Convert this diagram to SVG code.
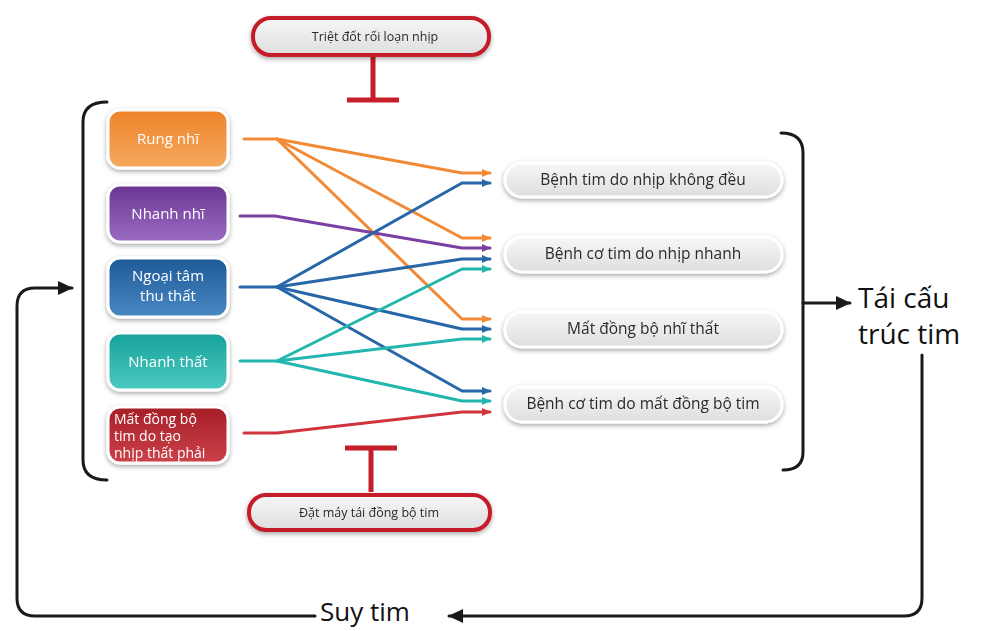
<svg xmlns="http://www.w3.org/2000/svg" width="985" height="631" viewBox="0 0 985 631">
<defs>
<style>
.lt{font-family:"Open Sans","Liberation Sans",sans-serif;font-size:15px;fill:#ffffff;text-anchor:middle}
.ls{font-family:"Open Sans","Liberation Sans",sans-serif;font-size:14px;fill:#ffffff;text-anchor:start}
.rt{font-family:"Open Sans","Liberation Sans",sans-serif;font-size:15.5px;fill:#2a2a2a;text-anchor:middle}
.st{font-family:"Open Sans","Liberation Sans",sans-serif;font-size:12.5px;fill:#2a2a2a;text-anchor:middle}
.big{font-family:"Open Sans","Liberation Sans",sans-serif;font-size:28px;fill:#111111}
.blk{fill:none;stroke:#1a1a1a;stroke-width:3;stroke-linecap:round;stroke-linejoin:round}
.c{fill:none;stroke-width:3;stroke-linejoin:round;stroke-linecap:round}
.lnode{stroke:#ffffff;stroke-width:3}
.rnode{fill:url(#gGray);stroke:#ffffff;stroke-width:3}
.tnode{fill:url(#gGray);stroke:#c51f2a;stroke-width:4}
.inh{fill:none;stroke:#c51f2a;stroke-width:5}
</style>
<filter id="sh" x="-20%" y="-30%" width="140%" height="160%">
<feGaussianBlur in="SourceAlpha" stdDeviation="2.5"/>
<feOffset dx="0" dy="2" result="b"/>
<feComponentTransfer><feFuncA type="linear" slope="0.35"/></feComponentTransfer>
<feMerge><feMergeNode/><feMergeNode in="SourceGraphic"/></feMerge>
</filter>
<linearGradient id="gOr" x1="0" y1="0" x2="0" y2="1"><stop offset="0" stop-color="#ee842a"/><stop offset="1" stop-color="#f6a85e"/></linearGradient>
<linearGradient id="gPu" x1="0" y1="0" x2="0" y2="1"><stop offset="0" stop-color="#6b3593"/><stop offset="1" stop-color="#9b6cc2"/></linearGradient>
<linearGradient id="gBl" x1="0" y1="0" x2="0" y2="1"><stop offset="0" stop-color="#1d5a97"/><stop offset="1" stop-color="#4a88c2"/></linearGradient>
<linearGradient id="gTe" x1="0" y1="0" x2="0" y2="1"><stop offset="0" stop-color="#17a29b"/><stop offset="1" stop-color="#4ccac2"/></linearGradient>
<linearGradient id="gRe" x1="0" y1="0" x2="0" y2="1"><stop offset="0" stop-color="#a51f27"/><stop offset="1" stop-color="#cc4149"/></linearGradient>
<linearGradient id="gGray" x1="0" y1="0" x2="0" y2="1"><stop offset="0" stop-color="#f7f7f7"/><stop offset="1" stop-color="#dedede"/></linearGradient>
<marker id="aO" markerWidth="10" markerHeight="8" refX="8" refY="4" orient="auto" markerUnits="userSpaceOnUse"><path d="M0,0 L9,4 L0,8 Z" fill="#f28a35"/></marker>
<marker id="aB" markerWidth="10" markerHeight="8" refX="8" refY="4" orient="auto" markerUnits="userSpaceOnUse"><path d="M0,0 L9,4 L0,8 Z" fill="#2767a8"/></marker>
<marker id="aP" markerWidth="10" markerHeight="8" refX="8" refY="4" orient="auto" markerUnits="userSpaceOnUse"><path d="M0,0 L9,4 L0,8 Z" fill="#7c3fa2"/></marker>
<marker id="aT" markerWidth="10" markerHeight="8" refX="8" refY="4" orient="auto" markerUnits="userSpaceOnUse"><path d="M0,0 L9,4 L0,8 Z" fill="#22b6ae"/></marker>
<marker id="aR" markerWidth="10" markerHeight="8" refX="8" refY="4" orient="auto" markerUnits="userSpaceOnUse"><path d="M0,0 L9,4 L0,8 Z" fill="#d2343d"/></marker>
<marker id="aK" markerWidth="16" markerHeight="14" refX="14" refY="7" orient="auto" markerUnits="userSpaceOnUse"><path d="M0,0 L15,7 L0,14 Z" fill="#1a1a1a"/></marker>
</defs>
<rect width="985" height="631" fill="#ffffff"/>

<g id="connectors">
<polyline class="c" stroke="#f28a35" points="244,139 277,139 462,173 490,173" marker-end="url(#aO)"/>
<polyline class="c" stroke="#f28a35" points="277,139 462,238 490,238" marker-end="url(#aO)"/>
<polyline class="c" stroke="#f28a35" points="277,139 462,319 490,319" marker-end="url(#aO)"/>
<polyline class="c" stroke="#7c3fa2" points="240,216 275,216 462,248 490,248" marker-end="url(#aP)"/>
<polyline class="c" stroke="#2767a8" points="240,287 277,287 462,183 490,183" marker-end="url(#aB)"/>
<polyline class="c" stroke="#2767a8" points="277,287 462,259 490,259" marker-end="url(#aB)"/>
<polyline class="c" stroke="#2767a8" points="277,287 462,329 490,329" marker-end="url(#aB)"/>
<polyline class="c" stroke="#2767a8" points="277,287 462,391 490,391" marker-end="url(#aB)"/>
<polyline class="c" stroke="#22b6ae" points="240,361 277,361 462,269 490,269" marker-end="url(#aT)"/>
<polyline class="c" stroke="#22b6ae" points="277,361 462,339 490,339" marker-end="url(#aT)"/>
<polyline class="c" stroke="#22b6ae" points="277,361 462,401 490,401" marker-end="url(#aT)"/>
<polyline class="c" stroke="#d2343d" points="244,433 277,433 462,412 490,412" marker-end="url(#aR)"/>
<path class="inh" d="M373,55 L373,100 M347,100 L399,100"/>
<path class="inh" d="M371,492 L371,448 M345,448 L397,448"/>
<path class="blk" d="M107,102 Q83,102 83,122 L83,460 Q83,480 107,480"/>
<path class="blk" d="M781,133 Q803,133 803,153 L803,452 Q803,470 783,470"/>
<path class="blk" d="M803,303 L850,303" marker-end="url(#aK)"/>
<path class="blk" d="M922,355 L922,598 Q922,616 904,616 L449,616" marker-end="url(#aK)"/>
<path class="blk" d="M315,616 L35,616 Q17,616 17,598 L17,306 Q17,288 35,288 L72,288" marker-end="url(#aK)"/>
</g>

<g id="n-rung-nhi" filter="url(#sh)"><rect class="lnode" x="108" y="110" width="120" height="58" rx="12" fill="url(#gOr)"/><text class="lt" x="168" y="144">Rung nhĩ</text></g>
<g id="n-nhanh-nhi" filter="url(#sh)"><rect class="lnode" x="108" y="185" width="120" height="57" rx="12" fill="url(#gPu)"/><text class="lt" x="168" y="219">Nhanh nhĩ</text></g>
<g id="n-ngoai-tam" filter="url(#sh)"><rect class="lnode" x="108" y="258" width="120" height="59" rx="12" fill="url(#gBl)"/><text class="lt" x="168" y="281">Ngoại tâm</text><text class="lt" x="168" y="301">thu thất</text></g>
<g id="n-nhanh-that" filter="url(#sh)"><rect class="lnode" x="108" y="333" width="120" height="57" rx="12" fill="url(#gTe)"/><text class="lt" x="168" y="367">Nhanh thất</text></g>
<g id="n-mat-dong-bo" filter="url(#sh)"><rect class="lnode" x="108" y="407" width="120" height="56" rx="12" fill="url(#gRe)"/><text class="ls" x="114" y="424">Mất đồng bộ</text><text class="ls" x="114" y="441">tim do tạo</text><text class="ls" x="114" y="458">nhịp thất phải</text></g>

<g id="r-benh-tim" filter="url(#sh)"><rect class="rnode" x="505" y="163" width="277" height="34" rx="17"/><text class="rt" x="643" y="185">Bệnh tim do nhịp không đều</text></g>
<g id="r-benh-co-tim-nhanh" filter="url(#sh)"><rect class="rnode" x="505" y="237" width="277" height="35" rx="17"/><text class="rt" x="643" y="259">Bệnh cơ tim do nhịp nhanh</text></g>
<g id="r-mat-dong-bo-nhi-that" filter="url(#sh)"><rect class="rnode" x="505" y="312" width="277" height="35" rx="17"/><text class="rt" x="643" y="334">Mất đồng bộ nhĩ thất</text></g>
<g id="r-benh-co-tim-mat" filter="url(#sh)"><rect class="rnode" x="505" y="387" width="277" height="35" rx="17"/><text class="rt" x="643" y="409">Bệnh cơ tim do mất đồng bộ tim</text></g>

<g id="t-triet-dot" filter="url(#sh)"><rect class="tnode" x="253" y="18" width="236" height="37" rx="18"/><text class="st" x="375" y="41">Triệt đốt rối loạn nhịp</text></g>
<g id="t-dat-may" filter="url(#sh)"><rect class="tnode" x="249" y="495" width="241" height="35" rx="17"/><text class="st" x="369" y="517">Đặt máy tái đồng bộ tim</text></g>

<g id="tai-cau-truc"><text class="big" x="858" y="308">Tái cấu</text><text class="big" x="858" y="344">trúc tim</text></g>
<g id="suy-tim"><text class="big" x="320" y="621" style="font-size:26px">Suy tim</text></g>
</svg>
